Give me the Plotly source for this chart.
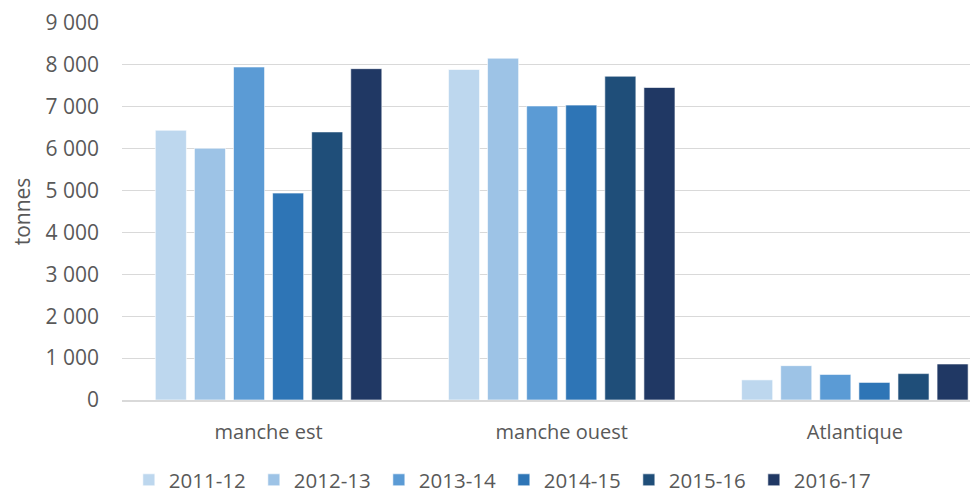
import plotly.graph_objects as go

categories = ["manche est", "manche ouest", "Atlantique"]
seasons = ["2011-12", "2012-13", "2013-14", "2014-15", "2015-16", "2016-17"]
v_2011 = [6440, 7890, 480]
v_2012 = [6010, 8160, 820]
v_2013 = [7950, 7020, 610]
v_2014 = [4940, 7040, 420]
v_2015 = [6400, 7730, 630]
v_2016 = [7910, 7460, 860]
values = [v_2011, v_2012, v_2013, v_2014, v_2015, v_2016]
colors = ["#BDD7EE", "#9DC3E6", "#5B9BD5", "#2E75B6", "#1F4E79", "#203864"]
y_ticks = [0, 1000, 2000, 3000, 4000, 5000, 6000, 7000, 8000, 9000]

fig = go.Figure()
for s, v, c in zip(seasons, values, colors):
    fig.add_trace(go.Bar(name=s, x=categories, y=v,
                         marker=dict(color=c, line=dict(color="rgba(255,255,255,0.6)", width=1))))

font_family = "'Open Sans', sans-serif"
fig.update_layout(
    width=970, height=485,
    margin=dict(l=114, r=0, t=15, b=93, autoexpand=False),
    paper_bgcolor="white", plot_bgcolor="white",
    barmode="group", bargap=0.2, bargroupgap=0.205,
    separators=". ",
    font=dict(family=font_family, color="#595959", size=21),
    yaxis=dict(range=[0, 9000], tickvals=y_ticks, tickformat=",", showgrid=True,
               gridcolor="#D9D9D9", gridwidth=1, zeroline=False, showline=False,
               ticks="", ticklabelstandoff=22, tickfont=dict(size=21),
               title=dict(text="tonnes", font=dict(size=21), standoff=12)),
    xaxis=dict(range=[-0.5, 2.42], showline=True, linecolor="#D9D9D9", linewidth=2, ticks="",
               tickfont=dict(size=20), ticklabelstandoff=13),
    legend=dict(orientation="h", x=0.008, xanchor="left", yref="container", y=0.0268, yanchor="middle",
                font=dict(size=20.5), entrywidth=80, entrywidthmode="pixels", traceorder="normal"),
)
fig.write_html("out.html")
